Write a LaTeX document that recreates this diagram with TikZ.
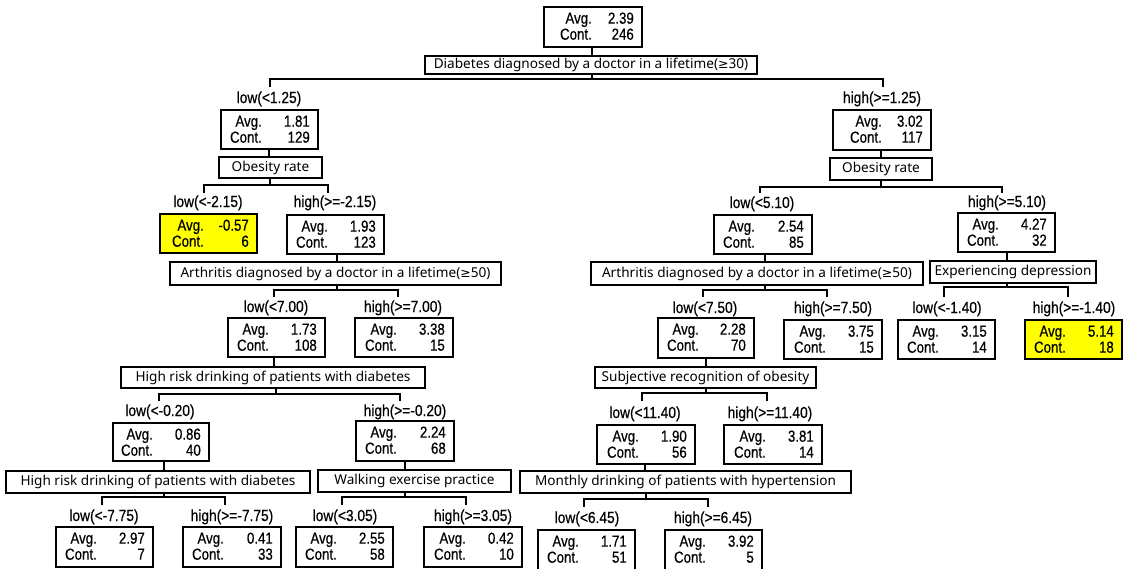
\documentclass[tikz,border=0pt]{standalone}
\usepackage{fontspec}
\usetikzlibrary{calc}
\newfontfamily\narrowf[FakeStretch=0.86,FakeBold=0.5]{Liberation Sans}
\newfontfamily\statf[FakeStretch=0.83,FakeBold=0.5]{Liberation Sans}
\newfontfamily\splitf{Noto Sans}
\newfontfamily\symf{DejaVu Sans}
\newcommand\GEQ{{\symf\fontsize{12.5}{15}\selectfont ≥}}
\definecolor{yel}{RGB}{255,255,0}
\tikzset{
  sbox/.style={draw,line width=1.8pt,inner sep=0pt,outer sep=0pt},
  pbox/.style={draw,line width=1.8pt,inner sep=0pt,outer sep=0pt,font=\splitf\fontsize{13.6}{15}\selectfont},
  stxt/.style={inner sep=0pt,font=\statf\fontsize{16}{17}\selectfont},
  lab/.style={inner sep=0pt,font=\narrowf\fontsize{16}{17}\selectfont},
  conn/.style={line width=1.8pt},
}
% stat box: name, x1,y1,x2,y2, avg, cont, label offset, fill
\newcommand\SB[9]{%
  \node[sbox,fill=#9,minimum width={(#4-#2)*1pt},minimum height={(#5-#3)*1pt}] (#1) at ({(#2+#4)/2},{(#3+#5)/2}) {};
  \node[stxt,anchor=base east] (#1-al) at ($(#1.north west)+(#8,16.7)$) {Avg.};
  \node[stxt,anchor=base east] (#1-av) at ($(#1.north east)+(-8,16.7)$) {#6};
  \node[stxt,anchor=base east] (#1-cl) at ($(#1.north west)+(#8,32.7)$) {Cont.};
  \node[stxt,anchor=base east] (#1-cv) at ($(#1.north east)+(-8,32.7)$) {#7};
}
% split box: name, x1,y1,x2,y2, text
\newcommand\SP[6]{%
  \node[pbox,minimum width={(#4-#2)*1pt},minimum height={(#5-#3)*1pt}] (#1) at ({(#2+#4)/2},{(#3+#5)/2}) {#6};
}
% bracket: split, xc, yh, xL, xR, yt
\newcommand\BR[6]{%
  \coordinate (#1-h) at (#2,#3);
  \coordinate (#1-l) at (#4,#6);
  \coordinate (#1-r) at (#5,#6);
  \draw[conn] (#1.south -| #1-h) -- (#1-h);
  \draw[conn] (#1-l) -- (#1-l |- #1-h) -- (#1-r |- #1-h) -- (#1-r);
}
% vertical link: parent, split, x
\newcommand\VL[3]{%
  \coordinate (#1-v) at (#3,0);
  \draw[conn] (#1.south -| #1-v) -- (#2.north -| #1-v);
}
% label: name, x, y, text
\newcommand\LB[4]{%
  \node[lab,anchor=base] (#1) at (#2,{#3+5}) {#4};
}
\begin{document}
\begin{tikzpicture}[x=1pt,y=-1pt]
\useasboundingbox (0,0) rectangle (1127,568);

\SB{root}{544}{7}{642}{47}{2.39}{246}{48}{white}
\SB{sa}{221}{110}{318}{149}{1.81}{129}{41}{white}
\SB{sb}{833}{110}{931}{150}{3.02}{117}{49}{white}
\SB{sc}{160}{214}{257}{253}{-0.57}{6}{44}{yel}
\SB{sd}{287}{215}{384}{254}{1.93}{123}{41}{white}
\SB{se}{714}{215}{812}{254}{2.54}{85}{41}{white}
\SB{sf}{958}{213}{1055}{252}{4.27}{32}{41}{white}
\SB{sg}{228}{318}{325}{357}{1.73}{108}{41}{white}
\SB{sh}{355}{318}{453}{357}{3.38}{15}{42}{white}
\SB{si}{658}{318}{754}{358}{2.28}{70}{41}{white}
\SB{sj}{784}{320}{882}{359}{3.75}{15}{42}{white}
\SB{sk}{898}{320}{995}{359}{3.15}{14}{41}{white}
\SB{sl}{1025}{320}{1122}{359}{5.14}{18}{41}{yel}
\SB{sm}{113}{423}{209}{461}{0.86}{40}{40}{white}
\SB{sn}{356}{421}{454}{461}{2.24}{68}{41}{white}
\SB{so}{597}{425}{695}{464}{1.90}{56}{42}{white}
\SB{sp}{724}{425}{822}{464}{3.81}{14}{42}{white}
\SB{sq}{56}{527}{153}{567}{2.97}{7}{41}{white}
\SB{sr}{183}{527}{281}{567}{0.41}{33}{41}{white}
\SB{ss}{296}{527}{393}{567}{2.55}{58}{41}{white}
\SB{st}{424}{527}{522}{567}{0.42}{10}{42}{white}
\SB{su}{538}{530}{635}{570}{1.71}{51}{41}{white}
\SB{sv}{665}{530}{762}{570}{3.92}{5}{41}{white}

\SP{pa}{425}{56}{757}{74}{Diabetes diagnosed by a doctor in a lifetime(\GEQ30)}
\SP{pb}{219}{157}{322}{178}{Obesity rate}
\SP{pc}{830}{158}{932}{180}{Obesity rate}
\SP{pd}{170}{262}{501}{285}{Arthritis diagnosed by a doctor in a lifetime(\GEQ50)}
\SP{pe}{591}{262}{923}{285}{Arthritis diagnosed by a doctor in a lifetime(\GEQ50)}
\SP{pf}{930}{261}{1096}{283}{Experiencing depression}
\SP{pg}{121}{367}{425}{388}{High risk drinking of patients with diabetes}
\SP{ph}{595}{367}{816}{388}{Subjective recognition of obesity}
\SP{pi}{6}{471}{310}{493}{High risk drinking of patients with diabetes}
\SP{pj}{318}{470}{511}{492}{Walking exercise practice}
\SP{pk}{520}{471}{851}{493}{Monthly drinking of patients with hypertension}

\VL{root}{pa}{592}
\VL{sa}{pb}{269}
\VL{sb}{pc}{881}
\VL{sd}{pd}{337}
\VL{se}{pe}{765}
\VL{sf}{pf}{1007}
\VL{sg}{pg}{274}
\VL{si}{ph}{706}
\VL{sm}{pi}{164}
\VL{sn}{pj}{405}
\VL{so}{pk}{645}

\BR{pa}{592}{79}{270}{883}{87}
\BR{pb}{270}{185}{204}{328}{193}
\BR{pc}{881}{187}{760}{1002}{193}
\BR{pd}{337}{290}{274}{398}{297}
\BR{pe}{765}{290}{703}{827}{297}
\BR{pf}{1007}{287}{944}{1068}{297}
\BR{pg}{276}{394}{159}{400}{401}
\BR{ph}{706}{393}{642}{767}{401}
\BR{pi}{164}{497}{102}{225}{505}
\BR{pj}{405}{497}{342}{466}{505}
\BR{pk}{646}{499}{584}{708}{507}

\LB{la1}{269}{98}{low(<1.25)}
\LB{la2}{882}{98}{high(>=1.25)}
\LB{lb1}{208}{202}{low(<-2.15)}
\LB{lb2}{335}{202}{high(>=-2.15)}
\LB{lc1}{762}{203}{low(<5.10)}
\LB{lc2}{1007}{202}{high(>=5.10)}
\LB{ld1}{276}{307}{low(<7.00)}
\LB{ld2}{403}{307}{high(>=7.00)}
\LB{le1}{705}{308}{low(<7.50)}
\LB{le2}{833}{308}{high(>=7.50)}
\LB{lf1}{947}{308}{low(<-1.40)}
\LB{lf2}{1074}{308}{high(>=-1.40)}
\LB{lg1}{160}{411}{low(<-0.20)}
\LB{lg2}{405}{411}{high(>=-0.20)}
\LB{lh1}{645}{413}{low(<11.40)}
\LB{lh2}{770}{413}{high(>=11.40)}
\LB{li1}{104}{516}{low(<-7.75)}
\LB{li2}{232}{516}{high(>=-7.75)}
\LB{lj1}{345}{516}{low(<3.05)}
\LB{lj2}{473}{516}{high(>=3.05)}
\LB{lk1}{587}{518}{low(<6.45)}
\LB{lk2}{713}{518}{high(>=6.45)}
\end{tikzpicture}
\end{document}
